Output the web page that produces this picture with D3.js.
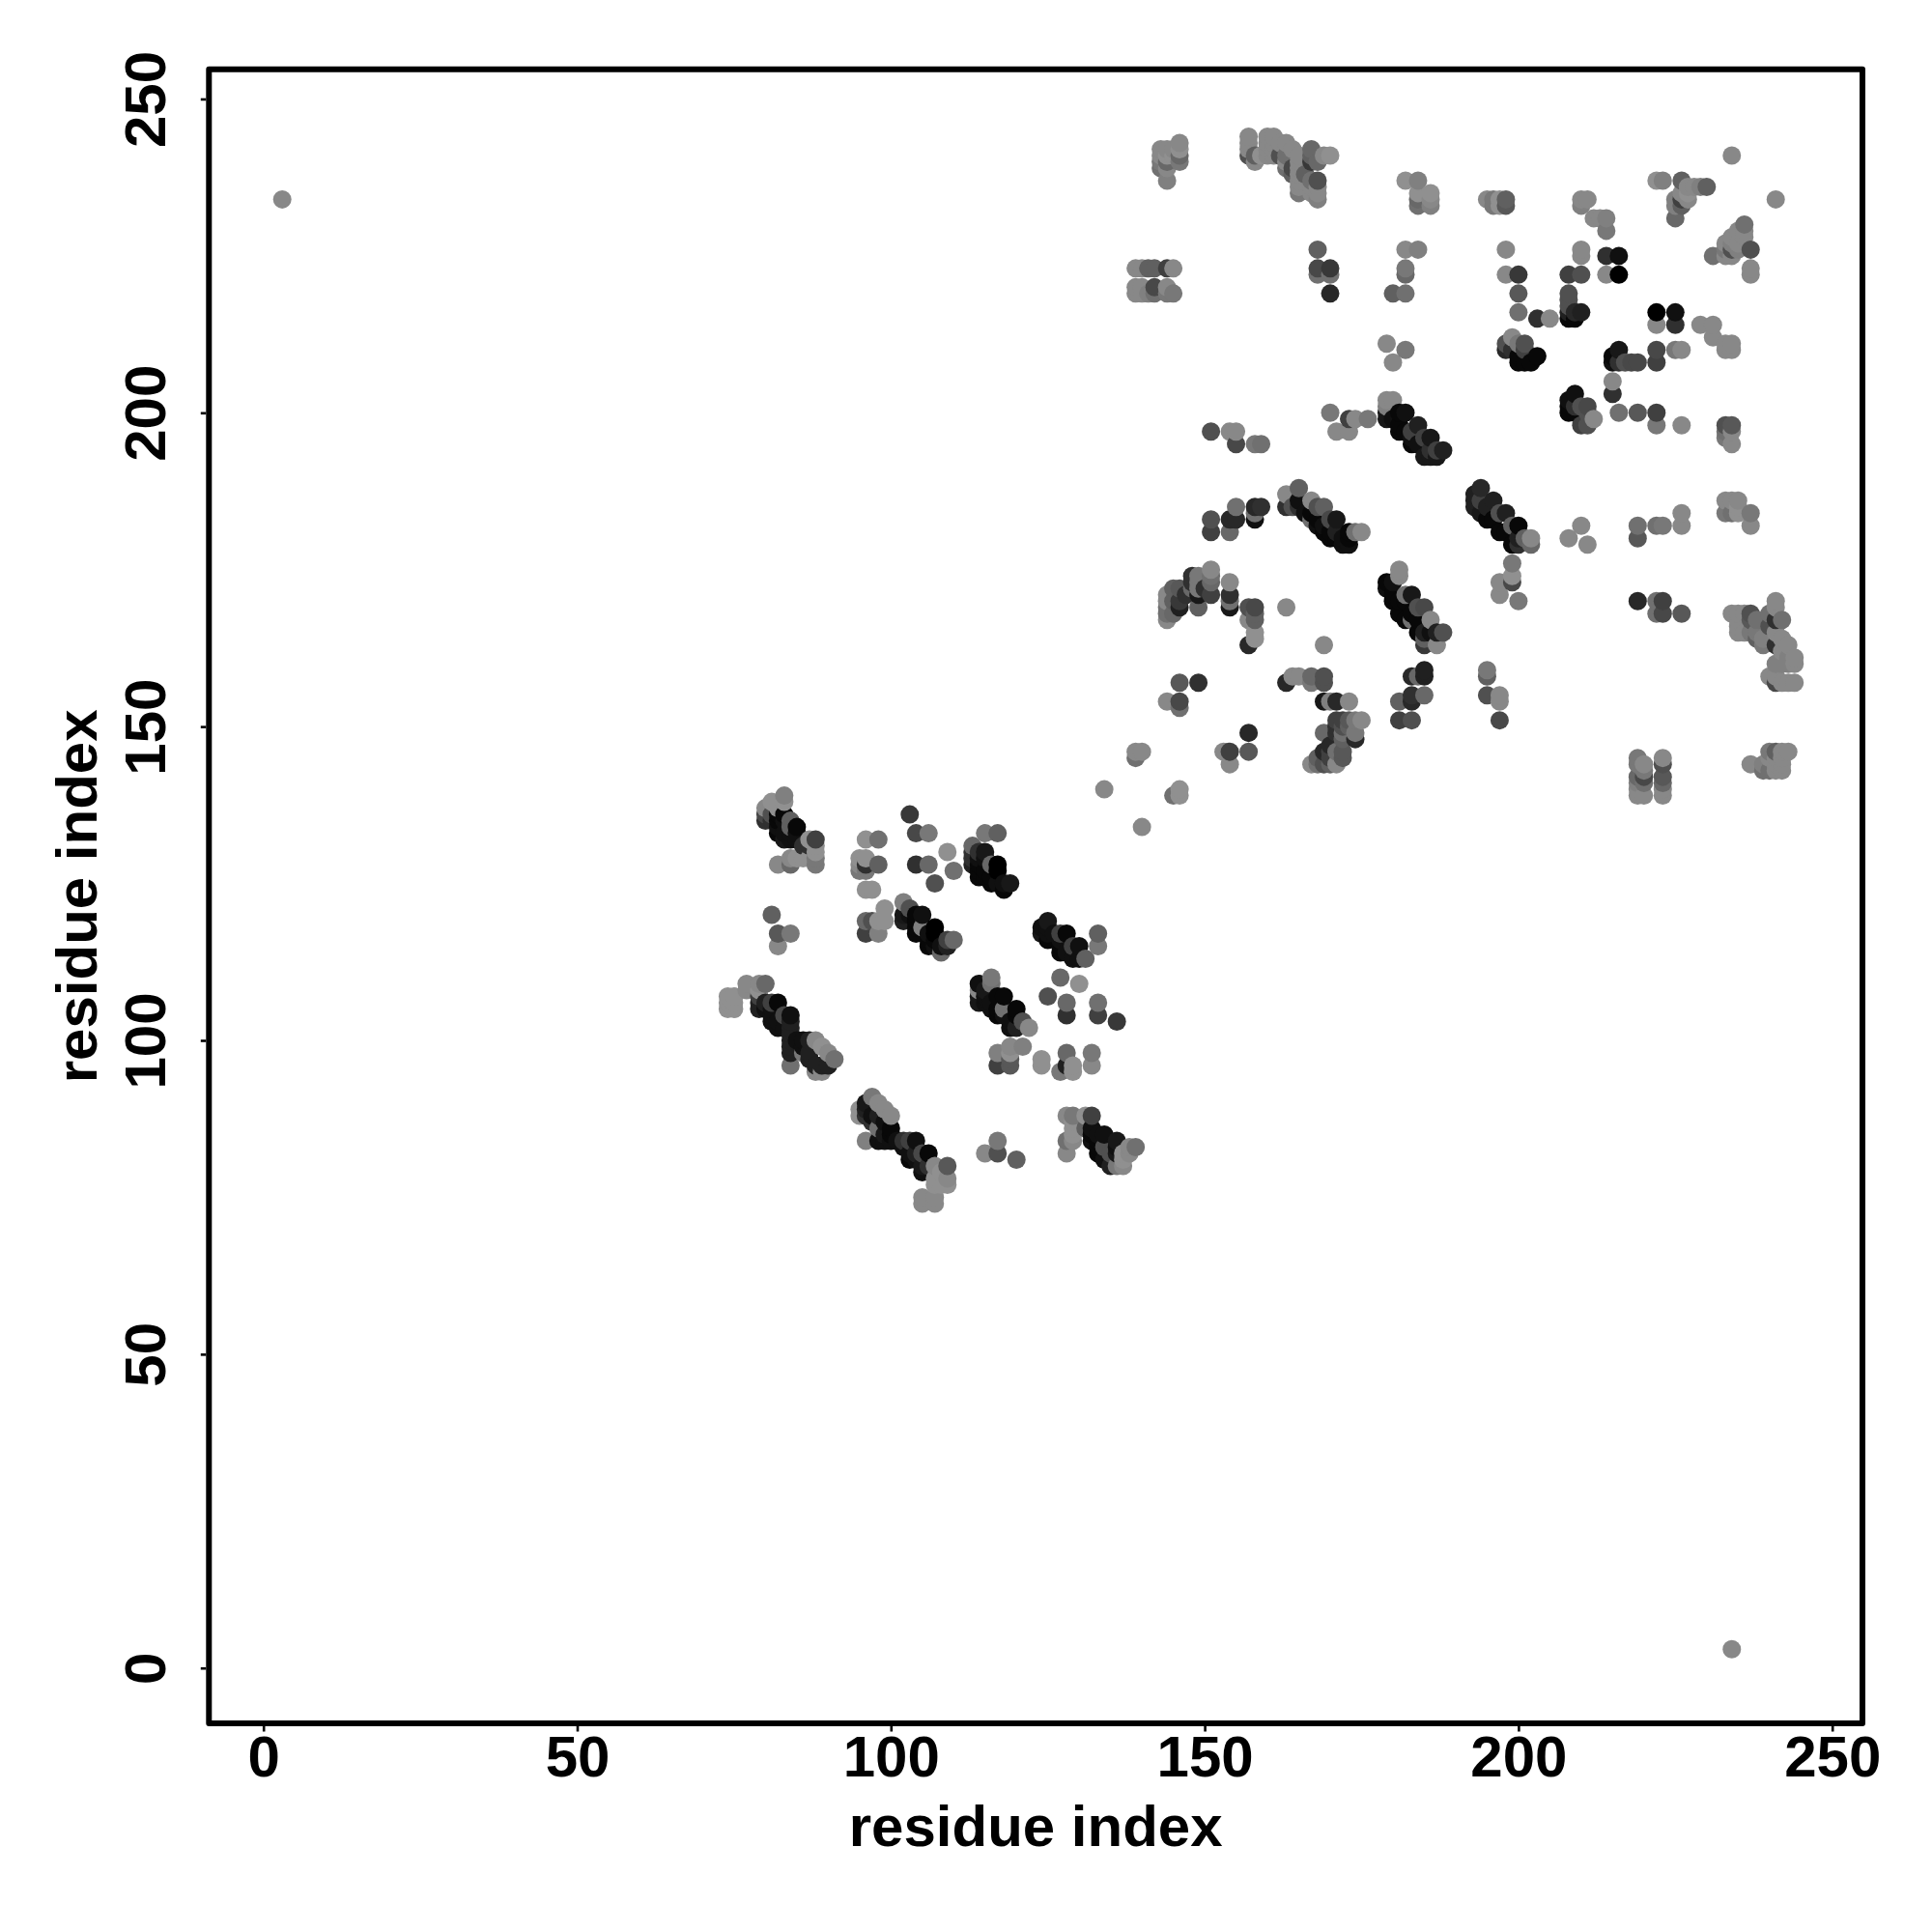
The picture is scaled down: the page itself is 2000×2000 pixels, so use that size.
<!DOCTYPE html>
<html><head><meta charset="utf-8">
<script src="https://cdn.jsdelivr.net/npm/d3@7"></script>
<style>html,body{margin:0;padding:0;background:#fff}svg{display:block}</style>
</head><body><svg id="c" width="2000" height="2000"></svg>
<script>
// [residue i, residue j, grey level]
const lowerLeft=[[3,234,0x88],[234,3,0x88]];
const blockA=[[80,135,0x30],[80,136,0x48],[80,137,0x88],[81,135,0x30],[81,136,0x50],[81,138,0x90],[82,133,0x08],[82,134,0x10],[82,135,0x08],[82,136,0x08],[82,137,0x90],[83,132,0x18],[83,133,0x10],[83,135,0x10],[83,136,0x08],[83,138,0x90],[83,139,0x80],[84,132,0x10],[84,133,0x10],[84,134,0x60],[84,135,0x60],[85,132,0x10],[85,133,0x10],[85,134,0x08],[86,131,0x30],[87,131,0x30],[87,132,0x90],[88,132,0x40],[88,131,0x90],[88,130,0x90],[82,128,0x88],[84,128,0x68],[84,129,0x88],[85,129,0x90],[86,129,0x90],[87,129,0x90],[88,128,0x78],[88,129,0x78]];
const blockB=[[96,132,0x90],[98,132,0x70],[95,129,0x90],[96,129,0x90],[95,128,0x88],[95,127,0x78],[96,128,0x30],[96,127,0x78],[98,128,0x60],[96,124,0x90],[97,124,0x90],[103,136,0x38],[104,133,0x48],[106,133,0x78],[104,128,0x30],[106,128,0x68],[109,130,0x90],[110,127,0x70],[107,125,0x50],[99,121,0x90],[99,119,0x90],[96,119,0x68],[97,119,0x50],[98,119,0x90],[96,117,0x40],[98,117,0x80],[81,120,0x60],[82,117,0x58],[84,117,0x78],[82,115,0x88]];
const blockC=[[115,133,0x78],[117,133,0x60],[113,131,0x68],[113,129,0x30],[113,130,0x30],[113,128,0x20],[114,130,0x30],[114,129,0x10],[114,128,0x08],[115,130,0x18],[115,129,0x10],[114,127,0x08],[114,126,0x08],[115,126,0x08],[115,127,0x08],[116,128,0x68],[116,125,0x08],[116,126,0x08],[117,128,0x00],[117,127,0x00],[117,125,0x10],[118,124,0x08],[118,125,0x10],[119,125,0x18]];
const blockD=[[102,122,0x80],[102,120,0x18],[102,119,0x20],[103,121,0x50],[103,120,0x10],[104,120,0x08],[104,119,0x08],[104,118,0x08],[104,117,0x08],[105,120,0x10],[105,118,0x80],[106,117,0x10],[106,116,0x08],[106,115,0x08],[107,118,0x00],[107,117,0x00],[107,116,0x08],[107,115,0x10],[108,115,0x10],[108,114,0x68],[109,116,0x40],[109,115,0x20],[110,116,0x68]];
const blockE=[[124,118,0x10],[124,117,0x18],[125,119,0x18],[125,118,0x10],[125,116,0x08],[125,117,0x10],[126,117,0x10],[127,117,0x40],[127,116,0x10],[127,115,0x08],[127,114,0x08],[128,117,0x08],[128,114,0x10],[129,115,0x40],[129,113,0x10],[130,115,0x10],[130,113,0x10],[131,113,0x60],[133,117,0x60],[133,115,0x78]];
const blockF=[[114,108,0x88],[114,109,0x10],[114,107,0x18],[114,106,0x18],[115,106,0x10],[115,107,0x10],[115,108,0x18],[116,110,0x78],[116,109,0x70],[116,106,0x10],[116,105,0x10],[117,107,0x08],[117,105,0x08],[117,104,0x08],[118,107,0x08],[118,105,0x70],[118,104,0x10],[119,102,0x10],[119,103,0x10],[120,105,0x08],[120,104,0x08],[120,102,0x20],[121,103,0x50],[122,102,0x88],[127,110,0x68],[130,109,0x90],[125,107,0x50],[128,106,0x68],[128,104,0x30],[133,106,0x70],[133,104,0x40],[136,103,0x38],[117,98,0x80],[117,96,0x40],[119,99,0x88],[121,99,0x80],[119,97,0x58],[119,96,0x58],[119,98,0x90],[124,97,0x90],[124,96,0x90],[128,98,0x68],[127,95,0x78],[128,96,0x20],[129,95,0x90],[129,96,0x90],[132,98,0x78],[132,96,0x88]];
const blockG=[[74,107,0x90],[75,107,0x90],[74,105,0x90],[75,105,0x90],[74,106,0x90],[75,106,0x90],[77,109,0x88],[77,108,0x88],[79,109,0x88],[80,109,0x68],[79,108,0x90],[79,105,0x20],[79,106,0x20],[79,107,0x40],[80,105,0x10],[80,106,0x20],[81,103,0x10],[81,106,0x40],[81,105,0x10],[81,104,0x10],[82,106,0x08],[82,102,0x10],[82,103,0x10],[83,104,0x48],[83,102,0x10],[84,104,0x10],[84,103,0x20],[84,102,0x20],[84,100,0x20],[84,99,0x20],[84,98,0x20],[84,96,0x70],[85,100,0x10],[86,100,0x10],[86,99,0x10],[86,98,0x78],[87,100,0x20],[87,98,0x20],[87,97,0x20],[88,100,0x88],[88,96,0x20],[88,95,0x88],[89,99,0x90],[89,96,0x20],[89,95,0x88],[90,98,0x88],[90,96,0x20],[91,97,0x70],[84,101,0x20]];
const blockH=[[95,89,0x90],[95,88,0x90],[96,90,0x18],[96,89,0x20],[96,88,0x30],[97,91,0x78],[97,88,0x10],[97,87,0x30],[96,84,0x80],[98,90,0x88],[98,88,0x20],[98,86,0x70],[98,84,0x10],[99,89,0x88],[99,87,0x10],[99,85,0x18],[99,84,0x10],[100,88,0x88],[100,86,0x08],[100,85,0x08],[100,84,0x10],[101,84,0x10],[102,84,0x30],[102,83,0x10],[103,84,0x40],[103,82,0x10],[103,81,0x08],[104,84,0x10],[104,82,0x20],[104,81,0x10],[105,82,0x48],[105,80,0x18],[105,79,0x10],[105,75,0x88],[105,74,0x88],[106,82,0x08],[106,80,0x30],[107,80,0x88],[107,78,0x90],[107,77,0x90],[107,75,0x88],[107,74,0x88],[108,79,0x90],[108,77,0x90],[109,80,0x58],[109,78,0x88],[109,77,0x90],[117,84,0x78],[115,82,0x88],[117,82,0x50],[120,81,0x60]];
const blockI=[[128,88,0x88],[129,88,0x78],[131,88,0x90],[132,88,0x40],[129,87,0x90],[129,86,0x90],[129,85,0x90],[128,84,0x70],[129,84,0x88],[128,82,0x88],[131,86,0x60],[132,85,0x08],[132,86,0x10],[132,84,0x10],[133,85,0x10],[133,84,0x08],[133,83,0x08],[133,82,0x08],[134,85,0x10],[134,83,0x50],[134,81,0x10],[135,82,0x50],[135,80,0x20],[136,83,0x10],[136,84,0x18],[136,82,0x18],[136,80,0x78],[137,80,0x88],[137,82,0x90],[137,81,0x90],[138,82,0x88],[138,83,0x88],[139,83,0x70],[134,140,0x88],[140,134,0x88]];
const topA=[[146,243,0x88],[146,242,0x90],[146,241,0x68],[146,240,0x78],[143,242,0x88],[144,242,0x88],[143,241,0x88],[143,240,0x78],[143,239,0x70],[144,240,0x68],[145,241,0x90],[144,239,0x88],[144,237,0x80],[145,242,0x88],[144,241,0x90],[157,244,0x88],[157,243,0x88],[157,242,0x88],[157,241,0x50],[158,241,0x60],[158,240,0x88],[160,244,0x88],[161,244,0x88],[160,243,0x88],[160,242,0x88],[160,241,0x88],[161,243,0x88],[161,242,0x88],[161,241,0x88],[159,241,0x90],[162,243,0x88],[163,243,0x88],[162,241,0x50],[163,241,0x70],[163,240,0x88],[164,242,0x88],[165,241,0x88],[163,239,0x70],[164,239,0x48],[164,238,0x60],[165,240,0x88],[165,239,0x88],[165,238,0x88],[165,237,0x88],[165,235,0x78],[165,236,0x88],[167,242,0x68],[167,240,0x38],[167,241,0x60],[166,238,0x60],[168,240,0x68],[169,241,0x88],[170,241,0x90],[168,237,0x50],[167,237,0x70],[168,235,0x88],[168,234,0x80],[167,235,0x88],[167,236,0x88],[168,236,0x88]];
const topB=[[182,237,0x90],[184,237,0x80],[184,235,0x90],[186,235,0x90],[184,234,0x68],[184,233,0x70],[186,234,0x88],[186,233,0x80],[168,226,0x60],[168,223,0x48],[170,223,0x38],[168,222,0x70],[170,222,0x70],[170,219,0x28],[182,226,0x88],[184,226,0x80],[182,223,0x78],[182,222,0x68],[180,219,0x60],[182,219,0x70],[139,223,0x88],[140,223,0x88],[141,223,0x60],[142,223,0x60],[144,223,0x40],[145,223,0x88],[139,220,0x88],[139,219,0x88],[140,220,0x88],[140,219,0x88],[141,219,0x80],[142,220,0x48],[142,219,0x70],[144,220,0x88],[144,219,0x78],[145,219,0x78],[179,211,0x88],[182,210,0x78],[180,208,0x88]];
const midA=[[170,200,0x78],[173,199,0x40],[174,199,0x88],[176,199,0x78],[171,197,0x88],[173,197,0x88],[151,197,0x50],[154,197,0x88],[155,197,0x88],[155,195,0x48],[158,195,0x78],[159,195,0x70],[179,202,0x88],[180,202,0x88],[179,201,0x80],[179,199,0x18],[179,200,0x18],[180,199,0x10],[181,200,0x08],[181,198,0x08],[181,197,0x08],[182,200,0x10],[182,197,0x08],[183,197,0x40],[183,196,0x10],[183,195,0x08],[184,198,0x20],[184,195,0x10],[185,196,0x40],[185,193,0x18],[186,196,0x18],[186,193,0x18],[186,194,0x30],[187,194,0x40],[187,193,0x18],[188,194,0x20]];
const topC=[[195,234,0x88],[196,234,0x78],[196,233,0x78],[197,234,0x90],[197,233,0x90],[198,234,0x60],[198,233,0x58],[210,234,0x88],[211,234,0x88],[210,233,0x80],[212,231,0x88],[214,231,0x80],[213,231,0x88],[214,229,0x78],[222,237,0x90],[223,237,0x80],[226,237,0x60],[230,236,0x60],[229,236,0x80],[227,236,0x88],[228,236,0x88],[226,235,0x88],[227,235,0x90],[225,234,0x80],[226,234,0x40],[226,233,0x60],[225,233,0x80],[227,234,0x88],[225,231,0x68],[234,241,0x88],[241,234,0x88],[236,230,0x70],[235,229,0x88],[236,229,0x88],[234,228,0x88],[236,228,0x88],[233,227,0x88],[234,227,0x80],[235,227,0x88],[231,225,0x70],[233,226,0x78],[234,226,0x50],[234,225,0x88],[233,225,0x88],[235,226,0x80],[237,226,0x50],[237,223,0x88],[237,222,0x88]];
const topD=[[198,226,0x88],[198,222,0x88],[200,222,0x38],[200,219,0x58],[200,216,0x70],[203,215,0x30],[205,215,0x88],[210,226,0x88],[210,225,0x88],[208,222,0x40],[210,222,0x50],[208,219,0x50],[208,218,0x50],[208,217,0x50],[208,216,0x20],[208,215,0x08],[209,215,0x08],[209,216,0x28],[210,216,0x20],[214,225,0x30],[216,225,0x10],[214,222,0x88],[216,222,0x00],[222,216,0x00],[225,216,0x10],[222,214,0x88],[225,214,0x30],[229,214,0x88],[231,214,0x88],[231,212,0x88],[233,211,0x88],[234,211,0x88],[233,210,0x88],[234,210,0x88],[222,210,0x48],[222,208,0x40],[225,210,0x78],[226,210,0x88]];
const topE=[[198,211,0x50],[199,212,0x88],[198,210,0x28],[199,210,0x30],[200,211,0x78],[201,211,0x50],[200,209,0x08],[200,208,0x08],[201,208,0x08],[202,208,0x08],[203,209,0x08],[201,210,0x40],[216,210,0x18],[215,209,0x08],[215,208,0x10],[216,208,0x30],[217,208,0x50],[218,208,0x48],[219,208,0x48],[215,205,0x88],[215,203,0x30],[209,203,0x10],[208,202,0x10],[208,201,0x08],[208,200,0x08],[209,201,0x30],[211,201,0x48],[210,201,0x50],[210,198,0x40],[211,198,0x50],[211,200,0x50],[212,199,0x88],[209,200,0x08],[216,200,0x70],[219,200,0x58],[222,200,0x40],[222,198,0x78],[226,198,0x88],[233,198,0x50],[234,198,0x58],[233,197,0x70],[234,197,0x88],[233,196,0x78],[234,195,0x88]];
const midB=[[194,188,0x28],[193,187,0x20],[193,186,0x20],[193,185,0x20],[194,186,0x40],[194,184,0x18],[196,186,0x20],[195,183,0x08],[195,185,0x20],[196,183,0x08],[198,184,0x20],[197,184,0x50],[197,181,0x08],[200,182,0x08],[199,182,0x60],[198,181,0x08],[199,179,0x08],[201,180,0x60],[202,180,0x88],[202,179,0x68],[200,179,0x30],[200,180,0x20],[210,182,0x88],[208,180,0x88],[211,179,0x88],[219,182,0x70],[219,180,0x58],[222,182,0x70],[223,182,0x78],[226,184,0x88],[226,182,0x88],[233,186,0x88],[234,186,0x88],[235,186,0x88],[233,184,0x78],[234,184,0x70],[235,184,0x90],[235,185,0x90],[237,184,0x78],[237,182,0x88],[199,176,0x78],[199,174,0x90],[199,173,0x48],[197,173,0x88],[197,171,0x88],[200,170,0x78],[219,170,0x28],[222,170,0x70],[223,170,0x40],[222,168,0x70],[223,168,0x48],[226,168,0x58],[195,159,0x78],[195,158,0x60],[195,155,0x50],[197,155,0x88],[197,154,0x88],[197,151,0x48]];
const cornerA=[[241,170,0x88],[241,169,0x88],[234,168,0x88],[235,168,0x88],[236,168,0x88],[237,168,0x50],[240,168,0x70],[242,167,0x70],[235,165,0x88],[236,165,0x88],[237,165,0x78],[238,165,0x78],[235,167,0x88],[235,166,0x88],[238,167,0x70],[237,167,0x58],[238,164,0x60],[239,163,0x78],[239,164,0x80],[241,165,0x88],[240,166,0x50],[241,167,0x30],[241,163,0x30],[242,164,0x88],[243,163,0x88],[242,161,0x80],[243,161,0x80],[244,161,0x88],[241,160,0x80],[242,160,0x80],[243,160,0x80],[244,160,0x88],[242,162,0x88],[240,158,0x88],[241,157,0x48],[242,157,0x88],[243,157,0x88],[244,157,0x88],[241,158,0x88],[219,145,0x78],[219,144,0x78],[220,144,0x88],[219,142,0x68],[220,142,0x48],[219,141,0x80],[220,141,0x70],[219,139,0x88],[220,139,0x88],[219,140,0x88],[220,143,0x78],[223,145,0x88],[223,144,0x50],[223,142,0x58],[223,141,0x68],[223,139,0x88],[223,140,0x88],[237,144,0x88],[240,146,0x78],[241,146,0x60],[242,146,0x88],[243,146,0x88],[239,143,0x70],[240,143,0x70],[241,143,0x88],[242,143,0x88],[242,144,0x88],[240,145,0x88],[241,145,0x88],[242,145,0x88],[239,144,0x80],[241,144,0x88]];
const midC=[[151,183,0x50],[151,181,0x40],[154,181,0x68],[154,183,0x28],[155,183,0x28],[155,185,0x70],[158,185,0x28],[159,185,0x30],[158,184,0x70],[158,183,0x10],[163,185,0x30],[163,187,0x88],[164,185,0x50],[165,188,0x60],[165,186,0x10],[165,185,0x30],[166,184,0x10],[167,186,0x88],[167,184,0x08],[167,183,0x70],[168,185,0x50],[168,183,0x08],[168,182,0x10],[169,185,0x60],[169,182,0x10],[169,181,0x08],[170,183,0x48],[170,181,0x08],[170,180,0x08],[171,183,0x18],[171,181,0x20],[171,180,0x08],[172,179,0x10],[172,180,0x10],[173,179,0x10],[173,181,0x08],[173,180,0x08],[174,181,0x70],[175,181,0x88]];
const midD=[[144,171,0x88],[144,170,0x88],[144,169,0x70],[144,168,0x70],[144,167,0x88],[145,172,0x60],[145,170,0x60],[145,168,0x68],[146,172,0x58],[146,170,0x38],[146,169,0x20],[147,171,0x30],[148,174,0x30],[148,173,0x30],[148,172,0x68],[149,174,0x78],[149,173,0x78],[149,172,0x78],[149,171,0x18],[149,169,0x60],[150,172,0x30],[151,175,0x88],[151,174,0x70],[151,173,0x68],[151,171,0x40],[154,173,0x88],[154,171,0x30],[154,170,0x70],[154,169,0x18],[157,169,0x50],[158,169,0x48],[157,167,0x88],[158,168,0x60],[158,167,0x60],[158,165,0x90],[158,164,0x90],[157,163,0x28],[163,169,0x88],[169,163,0x88],[163,157,0x28],[164,158,0x88],[165,158,0x88],[167,158,0x68],[167,157,0x78],[169,158,0x50],[169,157,0x50],[169,154,0x18],[170,154,0x80],[171,154,0x28],[173,154,0x88]];
const midE=[[171,151,0x40],[173,151,0x58],[174,151,0x78],[175,151,0x88],[172,151,0x40],[169,149,0x68],[171,149,0x30],[171,150,0x30],[172,150,0x50],[173,150,0x60],[174,149,0x78],[174,148,0x28],[172,148,0x60],[172,149,0x70],[169,146,0x28],[170,146,0x40],[170,147,0x28],[172,146,0x58],[172,145,0x58],[167,144,0x88],[168,144,0x70],[169,144,0x50],[170,145,0x40],[170,144,0x60],[171,144,0x88],[168,145,0x60],[171,146,0x70]];
const midF=[[181,175,0x88],[181,174,0x88],[179,173,0x08],[179,172,0x10],[180,173,0x10],[180,171,0x08],[180,170,0x08],[181,170,0x08],[181,168,0x08],[182,171,0x70],[182,170,0x08],[182,167,0x08],[183,171,0x18],[183,168,0x08],[183,167,0x70],[184,169,0x50],[184,167,0x08],[184,165,0x08],[185,169,0x48],[185,165,0x20],[185,164,0x60],[185,163,0x38],[186,167,0x88],[186,165,0x10],[187,165,0x20],[187,163,0x88],[188,165,0x50],[185,159,0x20],[185,158,0x20],[183,158,0x28],[184,158,0x68],[183,155,0x30],[183,154,0x28],[185,155,0x68],[181,154,0x60],[181,151,0x40],[183,151,0x50],[146,157,0x58],[149,157,0x30],[144,154,0x88],[146,154,0x48],[146,153,0x70],[157,149,0x28],[153,146,0x88],[154,146,0x40],[157,146,0x58],[154,144,0x88],[139,146,0x88],[140,146,0x88],[139,145,0x70],[145,139,0x70],[146,140,0x90],[146,139,0x90]];
const contacts=[lowerLeft,blockA,blockB,blockC,blockD,blockE,blockF,blockG,blockH,blockI,topA,topB,midA,topC,topD,topE,midB,cornerA,midC,midD,midE,midF].flat();
const xTicks=[0,50,100,150,200,250];
const yTicks=[0,50,100,150,200,250];
const axisTitle="residue index";

const L=216.3,R=1928,T=71.7,B=1784,kx=6.496,ky=6.497,x0=272.7,y0=1726.7;
const x=d3.scaleLinear().domain([(L-x0)/kx,(R-x0)/kx]).range([L,R]);
const y=d3.scaleLinear().domain([(y0-B)/ky,(y0-T)/ky]).range([B,T]);
const grey=d3.scaleLinear().domain([0,255]).range(["#000","#fff"]);
const svg=d3.select("#c");
const font='"Liberation Sans",Arial,sans-serif';
svg.append("rect").attr("width",2000).attr("height",2000).attr("fill","#fff");
const sorted=contacts.slice().sort((a,b)=>d3.ascending(a[0],b[0])||d3.ascending(a[1],b[1]));
svg.append("g").selectAll("circle").data(sorted).join("circle")
 .attr("cx",d=>x(d[0])).attr("cy",d=>y(d[1])).attr("r",9.5).attr("fill",d=>grey(d[2]));
svg.append("rect").attr("x",L).attr("y",T).attr("width",R-L).attr("height",B-T)
 .attr("fill","none").attr("stroke","#000").attr("stroke-width",6).attr("stroke-linejoin","round");
const gx=svg.append("g").attr("transform",`translate(0,${B+3})`)
 .call(d3.axisBottom(x).tickValues(xTicks).tickSize(5.5).tickPadding(0).tickFormat(d3.format("d")));
const gy=svg.append("g").attr("transform",`translate(${L-3},0)`)
 .call(d3.axisLeft(y).tickValues(yTicks).tickSize(5.5).tickFormat(d3.format("d")));
[gx,gy].forEach(g=>{g.select(".domain").remove();g.selectAll("line").attr("stroke","#000").attr("stroke-width",2.6);
 g.selectAll("text").attr("fill","#000").style("font",`bold 60px ${font}`);});
gx.selectAll("text").attr("y",0).attr("dy",0).attr("transform","translate(0,52)").attr("text-anchor","middle");
gy.selectAll("text").attr("x",0).attr("dy",0).attr("text-anchor","middle")
 .attr("transform","translate(-42.3,0) rotate(-90)");
svg.append("text").attr("x",(L+R)/2).attr("y",1911).attr("text-anchor","middle").style("font",`bold 60px ${font}`).text(axisTitle);
svg.append("text").attr("transform",`translate(99.5,${(T+B)/2}) rotate(-90)`).attr("text-anchor","middle").style("font",`bold 60px ${font}`).text(axisTitle);
</script></body></html>
